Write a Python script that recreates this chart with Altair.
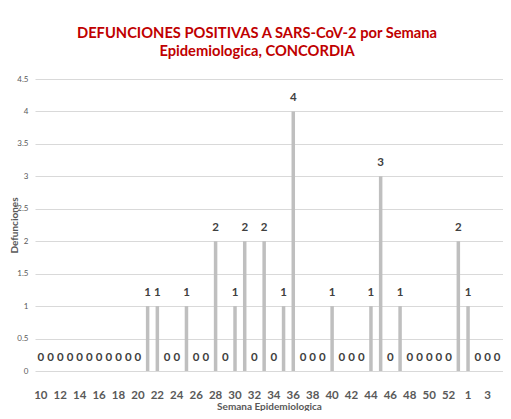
import altair as alt
import pandas as pd

weeks = [str(w) for w in range(10, 54)] + ["1", "2", "3", "4"]
deaths = [0, 0, 0, 0, 0, 0, 0, 0, 0, 0, 0,   # 10-20
          1, 1, 0, 0, 1, 0, 0, 2, 0, 1,       # 21-30
          2, 0, 2, 0, 1, 4, 0, 0, 0, 1,       # 31-40
          0, 0, 0, 1, 3, 0, 1, 0, 0, 0,       # 41-50
          0, 0, 2,                            # 51-53
          1, 0, 0, 0]                         # 1-4
tick_labels = [str(w) for w in range(10, 53, 2)] + ["1", "3"]
y_ticks = [0, 0.5, 1, 1.5, 2, 2.5, 3, 3.5, 4, 4.5]

df = pd.DataFrame({"semana": weeks, "defunciones": deaths})

FONT = "Lato"
GRAY = "#595959"

x_enc = alt.X(
    "semana:N",
    sort=weeks,
    scale=alt.Scale(paddingInner=0, paddingOuter=0.1),
    axis=alt.Axis(
        values=tick_labels,
        labelAngle=0,
        labelFont=FONT,
        labelFontSize=11.5,
        labelFontWeight="bold",
        labelColor=GRAY,
        labelPadding=18,
        labelOverlap=False,
        ticks=False,
        domain=False,
        title="Semana Epidemiologica",
        titleFont=FONT,
        titleFontSize=10,
        titleFontWeight="bold",
        titleColor=GRAY,
        titlePadding=1,
    ),
)
y_enc = alt.Y(
    "defunciones:Q",
    scale=alt.Scale(domain=[0, 4.5], nice=False),
    axis=alt.Axis(
        values=y_ticks,
        format="~g",
        labelFont=FONT,
        labelFontSize=8,
        labelColor=GRAY,
        labelPadding=7,
        labelOverlap=False,
        ticks=False,
        domain=False,
        grid=True,
        gridColor="#D9D9D9",
        gridWidth=1,
        title="Defunciones",
        titleFont=FONT,
        titleFontSize=10,
        titleFontWeight="bold",
        titleColor=GRAY,
        titleX=-16,
        titleY=146,
    ),
)

bars = alt.Chart(df).mark_bar(color="#BFBFBF", width=3.5).encode(x=x_enc, y=y_enc)
labels = alt.Chart(df).mark_text(
    font=FONT, fontSize=11.5, fontWeight="bold", color="#404040",
    baseline="middle", dy=-13,
).encode(x=x_enc, y=y_enc, text="defunciones:Q")

chart = (bars + labels).properties(
    width=468,
    height=292,
    title=alt.TitleParams(
        text=["DEFUNCIONES POSITIVAS A SARS-CoV-2 por Semana", "Epidemiologica,  CONCORDIA"],
        font=FONT,
        fontSize=14.7,
        fontWeight="bold",
        color="#C00000",
        anchor="middle",
        dx=-12,
        offset=16,
        lineHeight=18,
    ),
    autosize=alt.AutoSizeParams(type="none"),
    padding={"left": 27, "top": 71, "right": 0, "bottom": 40},
).configure_view(stroke=None)

chart.save("out.html", embed_options={"renderer": "svg", "actions": False})
